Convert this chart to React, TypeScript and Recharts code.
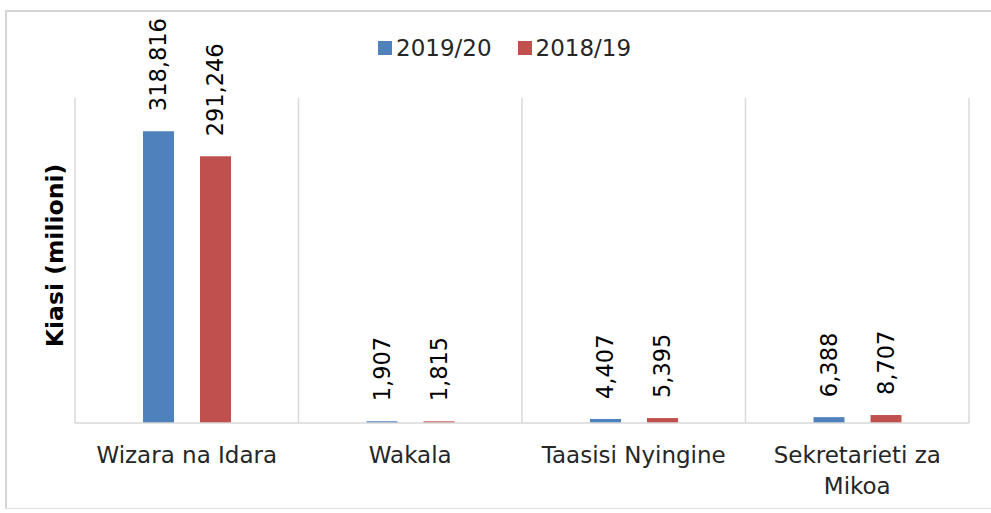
import React from 'react';
import { BarChart, Bar, XAxis, YAxis, CartesianGrid, Legend, LabelList, Label } from 'recharts';

const categories = ['Wizara na Idara', 'Wakala', 'Taasisi Nyingine', 'Sekretarieti za Mikoa'];
const values2019 = [318816, 1907, 4407, 6388];
const values2018 = [291246, 1815, 5395, 8707];
const seriesNames = ['2019/20', '2018/19'];
const yTitle = 'Kiasi (milioni)';

const data = categories.map((name, i) => ({
  name,
  v2019: values2019[i],
  v2018: values2018[i],
}));

const BLUE = '#4F81BD';
const RED = '#C0504D';
const FONT = "'DejaVu Sans', sans-serif";
const TICK_SIZE = 23;

let measureCtx: CanvasRenderingContext2D | null = null;
const measure = (s: string) => {
  if (!measureCtx) {
    const c = document.createElement('canvas');
    measureCtx = c.getContext('2d');
  }
  if (!measureCtx) return s.length * TICK_SIZE * 0.6;
  measureCtx.font = `${TICK_SIZE}px 'DejaVu Sans'`;
  return measureCtx.measureText(s).width;
};

const wrapWords = (text: string, maxWidth: number) => {
  const words = text.split(' ');
  const lines: string[] = [];
  let cur = '';
  words.forEach((w) => {
    const next = cur ? cur + ' ' + w : w;
    if (cur && measure(next) > maxWidth) {
      lines.push(cur);
      cur = w;
    } else {
      cur = next;
    }
  });
  if (cur) lines.push(cur);
  return lines;
};

const CategoryTick = (props: any) => {
  const { x, payload } = props;
  const lines = wrapWords(String(payload.value), 212);
  const baseY = 463;
  return (
    <text x={x} y={baseY} textAnchor="middle" fontSize={TICK_SIZE} fontFamily={FONT} fill="#262626">
      {lines.map((l, i) => (
        <tspan key={i} x={x} y={baseY + i * 31}>
          {l}
        </tspan>
      ))}
    </text>
  );
};

const ValueLabel = (props: any) => {
  const { x, y, width, value } = props;
  const cx = Number(x) + Number(width) / 2;
  const ty = Number(y) - 20;
  return (
    <text
      x={cx}
      y={ty}
      transform={`rotate(-90 ${cx} ${ty})`}
      textAnchor="start"
      dominantBaseline="central"
      fontSize={22.5}
      fontFamily={FONT}
      fill="#000"
    >
      {Number(value).toLocaleString('en-US')}
    </text>
  );
};

const TitleLabel = (props: any) => {
  const vb = props.viewBox || {};
  const tx = 55;
  const ty = vb.y + vb.height / 2 - 5;
  return (
    <text
      x={tx}
      y={ty}
      transform={`rotate(-90 ${tx} ${ty})`}
      textAnchor="middle"
      dominantBaseline="central"
      fontSize={23.5}
      fontWeight="bold"
      fontFamily={FONT}
      fill="#000"
    >
      {yTitle}
    </text>
  );
};

const LegendContent = (props: any) => {
  const payload = [...(props.payload || [])].sort(
    (a: any, b: any) => seriesNames.indexOf(a.value) - seriesNames.indexOf(b.value)
  );
  return (
    <div style={{ display: 'flex', alignItems: 'center', fontFamily: FONT, fontSize: 23, color: '#262626', whiteSpace: 'nowrap' }}>
      {payload.map((p: any, i: number) => (
        <div key={i} style={{ display: 'flex', alignItems: 'center', marginRight: 26 }}>
          <span style={{ display: 'inline-block', width: 14, height: 14, background: p.color, marginRight: 4 }} />
          <span>{p.value}</span>
        </div>
      ))}
    </div>
  );
};

export default function App() {
  return (
    <div style={{ position: 'absolute', left: 0, top: 0, width: 991, height: 513, background: '#fff', overflow: 'hidden' }}>
      <div
        style={{
          position: 'absolute',
          left: 5,
          top: 10,
          width: 1000,
          height: 496,
          borderTop: '2px solid #d4d4d4',
          borderLeft: '2px solid #d4d4d4',
          borderBottom: '1px solid #e0e0e0',
        }}
      />
      <div style={{ position: 'absolute', left: 0, top: 0 }}>
        <BarChart
          width={991}
          height={513}
          data={data}
          margin={{ top: 98, right: 22, bottom: 89, left: 74 }}
          barSize={31}
          barGap={26}
        >
          <CartesianGrid
            horizontal={false}
            vertical
            stroke="#d9d9d9"
            strokeWidth={1.5}
            verticalCoordinatesGenerator={({ offset }: any) =>
              Array.from({ length: categories.length + 1 }, (_, i) => offset.left + (offset.width * i) / categories.length)
            }
          />
          <XAxis
            dataKey="name"
            height={1}
            axisLine={{ stroke: '#d9d9d9', strokeWidth: 1.5 }}
            tickLine={false}
            tickSize={0}
            tickMargin={0}
            interval={0}
            tick={<CategoryTick />}
          />
          <YAxis width={1} domain={[0, 355000]} tick={false} axisLine={false} tickLine={false}>
            <Label content={<TitleLabel />} />
          </YAxis>
          <Legend
            layout="horizontal"
            verticalAlign="middle"
            align="center"
            content={<LegendContent />}
            wrapperStyle={{ position: 'absolute', top: 35, left: 378, width: 'auto' }}
          />
          <Bar dataKey="v2019" name={seriesNames[0]} fill={BLUE} isAnimationActive={false}>
            <LabelList dataKey="v2019" content={<ValueLabel />} />
          </Bar>
          <Bar dataKey="v2018" name={seriesNames[1]} fill={RED} isAnimationActive={false}>
            <LabelList dataKey="v2018" content={<ValueLabel />} />
          </Bar>
        </BarChart>
      </div>
    </div>
  );
}
